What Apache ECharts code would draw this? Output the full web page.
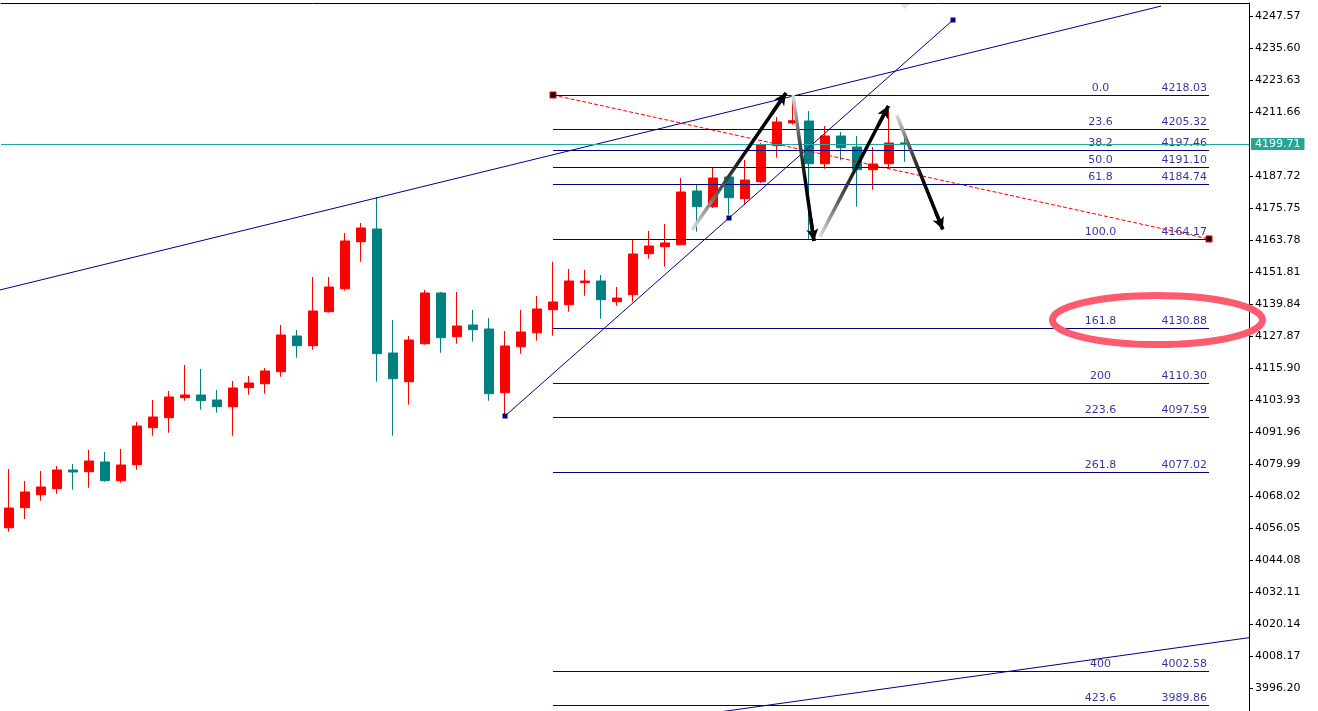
<!DOCTYPE html>
<html><head><meta charset="utf-8">
<script src="https://cdn.jsdelivr.net/npm/echarts@6/dist/echarts.min.js"></script>
<style>html,body{margin:0;padding:0;background:#fff}#c{width:1318px;height:711px}</style>
</head><body><div id="c"></div>
<script>
// ---- data ----
const opens  = [4056.16,4063.64,4068.51,4070.75,4077.75,4077.11,4080.74,4073.74,4079.73,4093.57,4097.31,4104.79,4105.80,4103.93,4101.42,4108.53,4110.03,4114.52,4127.87,4124.24,4136.96,4145.56,4163.14,4167.90,4121.51,4110.78,4124.99,4143.96,4127.61,4131.99,4130.49,4106.66,4123.87,4129.10,4137.71,4139.58,4147.81,4148.44,4140.70,4143.32,4158.66,4161.27,4162.02,4182.11,4176.24,4187.35,4179.23,4185.59,4199.05,4207.55,4208.29,4192.32,4202.68,4198.57,4190.08,4192.32,4200.10];
const closes = [4063.53,4069.52,4071.39,4077.75,4077.00,4081.11,4073.74,4079.62,4094.20,4097.57,4105.05,4105.80,4103.67,4101.42,4108.42,4110.29,4114.78,4128.24,4124.24,4137.22,4146.20,4163.41,4168.27,4121.25,4111.90,4126.37,4143.96,4127.23,4131.61,4130.23,4106.29,4124.13,4129.37,4137.97,4140.59,4148.44,4148.44,4141.45,4142.08,4158.54,4161.54,4162.66,4181.74,4176.24,4186.97,4179.60,4186.22,4199.32,4207.92,4208.41,4192.32,4202.68,4198.31,4190.08,4192.21,4200.06,4199.71];
const lows   = [4054.67,4059.42,4066.26,4068.88,4070.38,4071.13,4073.37,4072.99,4077.86,4090.58,4091.70,4103.67,4100.30,4099.18,4090.58,4105.91,4106.29,4112.65,4119.75,4122.75,4136.66,4144.82,4155.66,4110.78,4090.58,4102.17,4124.62,4121.62,4124.99,4125.74,4103.67,4097.94,4121.25,4126.11,4127.98,4136.96,4142.94,4134.34,4139.20,4140.70,4156.79,4153.79,4161.91,4166.88,4175.75,4173.24,4176.98,4185.10,4194.57,4206.98,4164.17,4190.45,4193.59,4176.24,4182.60,4190.83,4193.07];
const highs  = [4078.12,4073.63,4077.37,4079.24,4079.99,4085.23,4084.48,4085.60,4095.70,4103.93,4107.30,4117.02,4115.53,4107.67,4111.04,4112.91,4115.90,4131.99,4130.11,4149.94,4149.94,4166.40,4170.14,4179.87,4133.86,4127.87,4145.08,4144.33,4144.33,4137.60,4134.60,4129.74,4137.60,4142.83,4155.66,4152.93,4152.56,4150.69,4146.20,4164.15,4167.15,4169.77,4186.97,4184.35,4190.71,4188.09,4193.71,4200.06,4209.79,4218.03,4212.03,4206.42,4204.18,4202.68,4198.57,4212.41,4201.93];
const tickValues = [4247.57,4235.60,4223.63,4211.66,4187.72,4175.75,4163.78,4151.81,4139.84,4127.87,4115.90,4103.93,4091.96,4079.99,4068.02,4056.05,4044.08,4032.11,4020.14,4008.17,3996.20];
const fibLevels = ['0.0','23.6','38.2','50.0','61.8','100.0','161.8','200','223.6','261.8','400','423.6'];
const fibPrices = [4218.03,4205.32,4197.46,4191.10,4184.74,4164.17,4130.88,4110.30,4097.59,4077.02,4002.58,3989.86];
const currentPrice = 4199.71;
const upperTrend = [[-0.6,4145.04],[72,4251.27]];
const lowerTrend = [[44,3986.89],[78,4015.44]];
const diagLine   = [[31,4097.94],[45,4172.01],[59,4246.07]];
const fibBase    = [[34,4218.03],[75,4164.17]];
const arrows = [[42.69,4167.52,48.56,4218.77],[49.0,4218.03,50.31,4163.41],[50.69,4165.01,54.96,4213.9],[55.48,4210.54,58.36,4167.78]];
const fibLabelBar = 68.22;
const ellipseCenter = [71.78, 4133.86];
const NSLOTS = 78;

// ---- chart ----
const FONT = 'DejaVu Sans';
const NAVY = '#000080';
const slots = Array.from({length: NSLOTS}, (_, i) => String(i));
const candles = opens.map((o, i) => [o, closes[i], lows[i], highs[i]]);

const arrowBodies = arrows.map(a => {
  const sx = a[2] >= a[0] ? 0 : 1;
  const sy = a[3] >= a[1] ? 1 : 0;
  return [{coord: [a[0], a[1]], lineStyle: {width: 3.5, type: 'solid', color: {type: 'linear', x: sx, y: sy, x2: 1 - sx, y2: 1 - sy,
      colorStops: [{offset: 0, color: '#e6e6e6'}, {offset: 0.3, color: '#555'}, {offset: 0.6, color: '#000'}, {offset: 1, color: '#000'}]}}},
    {coord: [a[2], a[3]]}];
});
const arrowHeads = arrows.map(a => {
  const t = 0.85;
  return [{coord: [a[0] + (a[2] - a[0]) * t, a[1] + (a[3] - a[1]) * t]}, {coord: [a[2], a[3]]}];
});

const chart = echarts.init(document.getElementById('c'), null, {renderer: 'canvas'});
const option = {
  animation: false,
  backgroundColor: '#ffffff',
  grid: {left: 1, right: 69, top: 3, bottom: 0, containLabel: false},
  xAxis: [
    {type: 'category', data: slots, position: 'top', boundaryGap: true,
     axisLine: {show: true, onZero: false, lineStyle: {color: '#000', width: 1}}, axisTick: {show: false}, axisLabel: {show: false}, splitLine: {show: false}},
    {type: 'value', min: -0.5, max: NSLOTS - 0.5, show: false, axisLine: {onZero: false}}
  ],
  yAxis: {type: 'value', position: 'right', min: 3987.596, max: 4252.433, scale: true,
    splitLine: {show: false},
    axisLine: {show: true, onZero: false, lineStyle: {color: '#000', width: 1}},
    axisTick: {show: true, inside: false, length: 4, customValues: tickValues, lineStyle: {color: '#000'}},
    axisLabel: {customValues: tickValues, formatter: v => v.toFixed(2), margin: 6, color: '#000', fontSize: 11, fontFamily: FONT}
  },
  series: [
    {type: 'candlestick', xAxisIndex: 0, yAxisIndex: 0, barWidth: 10, data: candles,
     itemStyle: {color: '#ff0000', color0: '#008080', borderColor: '#ff0000', borderColor0: '#008080', borderWidth: 1}},
    {type: 'line', xAxisIndex: 1, data: upperTrend, showSymbol: false, clip: true, silent: true,
     lineStyle: {color: NAVY, width: 1}},
    {type: 'line', xAxisIndex: 1, data: lowerTrend, showSymbol: false, clip: true, silent: true,
     lineStyle: {color: NAVY, width: 1},
     markLine: {silent: true, symbol: ['none', 'none'], label: {show: false},
       lineStyle: {color: NAVY, width: 1, type: 'solid'},
       data: fibPrices.map(p => [{coord: [fibBase[0][0], p]}, {coord: [fibBase[1][0], p]}])}},
    {type: 'line', xAxisIndex: 1, data: diagLine, showSymbol: true, symbol: 'rect', symbolSize: 5, clip: true, silent: true,
     itemStyle: {color: NAVY}, lineStyle: {color: NAVY, width: 1}},
    {type: 'line', xAxisIndex: 1, data: fibBase, showSymbol: true, symbol: 'rect', symbolSize: 6, silent: true, z: 4,
     itemStyle: {color: '#000', borderColor: '#ff0000', borderWidth: 1},
     lineStyle: {color: '#ff0000', width: 1, type: [4, 2]},
     markLine: {silent: true, symbol: ['none', 'none'],
       lineStyle: {color: '#20a898', width: 1, type: 'solid'},
       label: {show: true, position: 'end', distance: 2, formatter: () => currentPrice.toFixed(2), color: '#fff',
         backgroundColor: '#27a596', padding: [1, 4, 0, 4], fontSize: 11, fontFamily: FONT},
       data: [{yAxis: currentPrice}]}},
    {type: 'line', xAxisIndex: 1, data: [], silent: true, z: 6,
     markLine: {silent: true, symbol: ['none', 'none'], label: {show: false},
       lineStyle: {type: 'solid', width: 3.5}, data: arrowBodies}},
    {type: 'line', xAxisIndex: 1, data: [], silent: true, z: 7,
     markLine: {silent: true, symbol: ['none', 'arrow'], symbolSize: [9, 12], label: {show: false},
       lineStyle: {color: '#000', width: 3.5, type: 'solid'}, itemStyle: {color: '#000'}, data: arrowHeads}},
    {type: 'scatter', xAxisIndex: 1, silent: true, symbolSize: 1, itemStyle: {color: 'rgba(0,0,0,0)'},
     data: fibPrices.map((p, i) => ({value: [fibLabelBar, p], name: fibLevels[i]})),
     label: {show: true, position: [0.5, -1], align: 'center', verticalAlign: 'bottom', formatter: p => p.name,
       color: NAVY, fontSize: 11, fontFamily: FONT}},
    {type: 'scatter', xAxisIndex: 1, silent: true, symbolSize: 1, itemStyle: {color: 'rgba(0,0,0,0)'},
     data: fibPrices.map(p => [fibBase[1][0], p]),
     label: {show: true, position: [-1.5, -1], align: 'right', verticalAlign: 'bottom', formatter: p => p.value[1].toFixed(2),
       color: NAVY, fontSize: 11, fontFamily: FONT}}
  ]
};
chart.setOption(option);

const c = chart.convertToPixel({xAxisIndex: 1, yAxisIndex: 0}, ellipseCenter);
const lastBarX = chart.convertToPixel({xAxisIndex: 1, yAxisIndex: 0}, [opens.length - 1, 4200])[0];
chart.setOption({graphic: [
  {type: 'ellipse', shape: {cx: c[0], cy: c[1], rx: 105, ry: 24.5}, z: 100,
   style: {fill: 'none', stroke: '#ff5a6e', lineWidth: 7}},
  {type: 'polygon', shape: {points: [[lastBarX - 5, 4], [lastBarX + 5, 4], [lastBarX, 9]]}, z: 50,
   style: {fill: '#e0e0e0'}}
]});
</script></body></html>
